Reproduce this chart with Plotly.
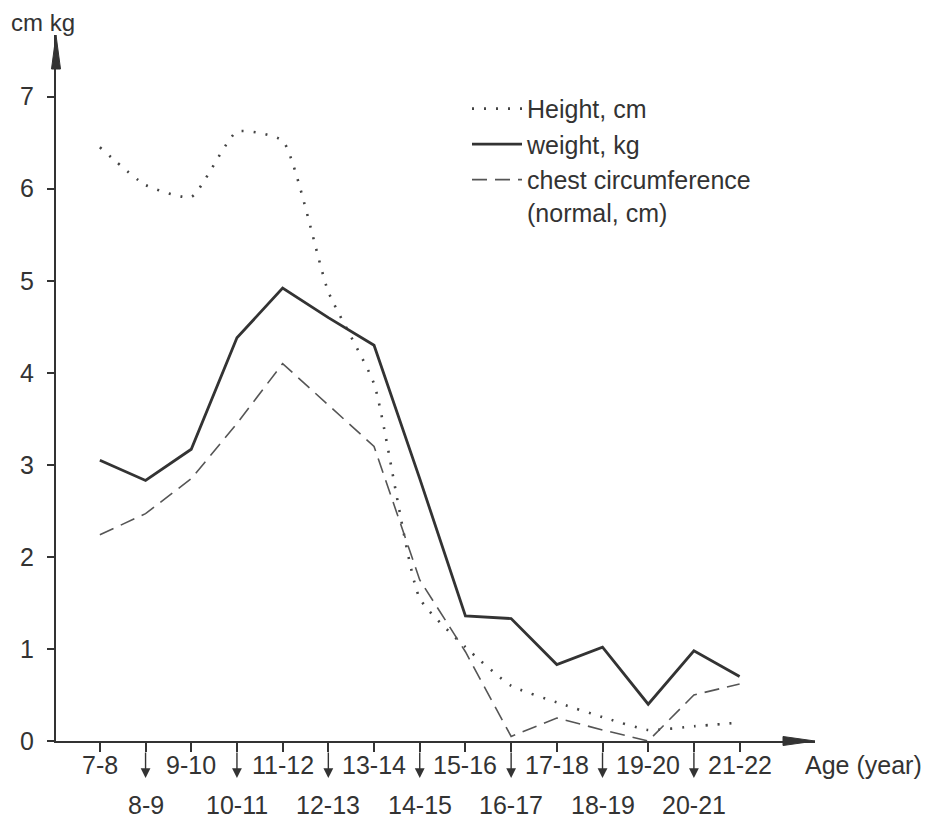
import plotly.graph_objects as go

ages = ["7-8", "8-9", "9-10", "10-11", "11-12", "12-13", "13-14", "14-15",
        "15-16", "16-17", "17-18", "18-19", "19-20", "20-21", "21-22"]
height_cm = [6.45, 6.04, 5.91, 6.62, 6.52, 4.88, 3.88, 1.55, 1.02, 0.6, 0.42, 0.26, 0.12, 0.16, 0.2]
weight_kg = [3.05, 2.83, 3.17, 4.38, 4.92, 4.6, 4.3, 2.85, 1.36, 1.33, 0.83, 1.02, 0.4, 0.98, 0.7]
chest_cm = [2.24, 2.47, 2.85, 3.45, 4.1, 3.65, 3.2, 1.75, 0.97, 0.05, 0.25, 0.12, 0.0, 0.5, 0.62]
y_ticks = [0, 1, 2, 3, 4, 5, 6, 7]

idx = list(range(len(ages)))
FONT = "Liberation Sans, Arial, sans-serif"
INK = "#333333"
FS = 25
M_L, M_R, M_T, M_B = 48, 118, 27, 83
W, H = 925, 816
PLOT_H = H - M_T - M_B

fig = go.Figure()
fig.add_trace(go.Scatter(x=idx, y=height_cm, mode="lines", name="Height, cm",
                         line=dict(color="#444", width=2.6, dash="2px,10px", shape="spline", smoothing=0.5),
                         cliponaxis=False))
fig.add_trace(go.Scatter(x=idx, y=weight_kg, mode="lines", name="weight, kg",
                         line=dict(color=INK, width=2.8), cliponaxis=False))
fig.add_trace(go.Scatter(x=idx, y=chest_cm, mode="lines", name="chest circumference<br>(normal, cm)",
                         line=dict(color="#555", width=1.6, dash="15px,8px"), cliponaxis=False))

annotations = []
for i, lab in enumerate(ages):
    if i % 2 == 0:
        annotations.append(dict(x=i, y=-24 / PLOT_H, xref="x", yref="paper", text=lab, showarrow=False,
                                font=dict(size=FS, color=INK, family=FONT), yanchor="middle"))
    else:
        annotations.append(dict(x=i, y=-64 / PLOT_H, xref="x", yref="paper", text=lab, showarrow=False,
                                font=dict(size=FS, color=INK, family=FONT), yanchor="middle"))
        annotations.append(dict(x=i, y=-37 / PLOT_H, xref="x", yref="paper", text="", showarrow=True,
                                ax=0, ay=-27, arrowhead=2, arrowsize=1.4, arrowwidth=1.4,
                                arrowcolor=INK))
annotations.append(dict(x=1.0, y=-24 / PLOT_H, xref="paper", yref="paper", text="Age (year)",
                        showarrow=False, xanchor="left", yanchor="middle", xshift=-12,
                        font=dict(size=FS, color=INK, family=FONT)))
annotations.append(dict(x=0, y=1, xref="paper", yref="paper", text="cm kg", showarrow=False,
                        xanchor="left", yanchor="middle", xshift=-46, yshift=13, borderpad=0,
                        font=dict(size=24, color=INK, family=FONT)))

shapes = [
    dict(type="path", xref="paper", yref="paper", xsizemode="pixel", ysizemode="pixel",
         xanchor=0, yanchor=1, path="M -4.5,-34 L 0,0 L 4.5,-34 Z",
         fillcolor=INK, line=dict(color=INK, width=1)),
    dict(type="path", xref="paper", yref="paper", xsizemode="pixel", ysizemode="pixel",
         xanchor=1, yanchor=0, path="M -32,-4.5 L 0,0 L -32,4.5 Z",
         fillcolor=INK, line=dict(color=INK, width=1)),
]

fig.update_layout(
    width=W, height=H,
    margin=dict(l=M_L, r=M_R, t=M_T, b=M_B),
    paper_bgcolor="white", plot_bgcolor="white",
    font=dict(family=FONT, size=FS, color=INK),
    showlegend=True,
    legend=dict(x=0.5415, y=0.928, xanchor="left", yanchor="top", bgcolor="rgba(0,0,0,0)",
                font=dict(size=FS, color=INK, family=FONT), valign="top",
                itemwidth=50, tracegroupgap=4),
    annotations=annotations,
    shapes=shapes,
    xaxis=dict(range=[-0.96, 15.65], tickvals=idx, showticklabels=False, ticks="outside",
               ticklen=9, tickwidth=1.5, tickcolor=INK, showline=True, linecolor=INK,
               linewidth=2, showgrid=False, zeroline=False, fixedrange=True),
    yaxis=dict(range=[0, 7.67], tickvals=y_ticks, ticks="outside", ticklen=7, tickwidth=1.5,
               tickcolor=INK, showline=True, linecolor=INK, linewidth=2, showgrid=False,
               zeroline=False, tickfont=dict(size=FS, color=INK, family=FONT),
               ticklabelstandoff=8),
)

fig.write_html("out.html")
